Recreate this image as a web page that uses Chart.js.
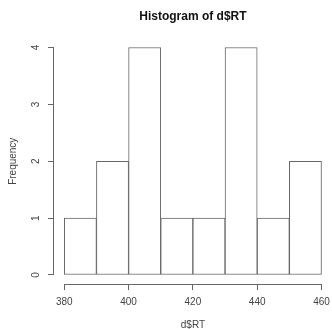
<!DOCTYPE html>
<html>
<head>
<meta charset="utf-8">
<script src="https://cdn.jsdelivr.net/npm/chart.js@4/dist/chart.umd.min.js"></script>
<style>
  html, body { margin: 0; padding: 0; background: #ffffff; overflow: hidden; }
  #wrap { width: 336px; height: 329px; }
</style>
</head>
<body>
<div id="wrap"><canvas id="c" width="336" height="329"></canvas></div>
<script>
// ---- data ----
const binStarts = [380, 390, 400, 410, 420, 430, 440, 450];
const binWidth = 10;
const counts = [1, 2, 4, 1, 1, 4, 1, 2];
const xTicks = [380, 400, 420, 440, 460];
const yTicks = [0, 1, 2, 3, 4];
const titleText = 'Histogram of d$RT';
const xLabel = 'd$RT';
const yLabel = 'Frequency';

const xMin = 380, xMax = 460, yMax = 4;
const xPad = (xMax - xMin) * 0.04, yPad = yMax * 0.04;

const points = binStarts.map((s, i) => ({ x: s + binWidth / 2, y: counts[i] }));

const lineColor = '#666666';
const textColor = '#444444';
const smallFont = { family: 'Liberation Sans, Arial, sans-serif', size: 10 };

const rAxesPlugin = {
  id: 'rAxes',
  afterDraw(chart) {
    const ctx = chart.ctx;
    const xs = chart.scales.x, ys = chart.scales.y;
    const area = chart.chartArea;
    ctx.save();
    ctx.strokeStyle = lineColor;
    ctx.lineWidth = 1;
    // x axis line from first to last tick
    const yb = Math.round(area.bottom) + 0.5;
    ctx.beginPath();
    ctx.moveTo(xs.getPixelForValue(xTicks[0]), yb);
    ctx.lineTo(xs.getPixelForValue(xTicks[xTicks.length - 1]), yb);
    ctx.stroke();
    // y axis line
    const xl = Math.round(area.left) - 0.5;
    ctx.beginPath();
    ctx.moveTo(xl, ys.getPixelForValue(yTicks[0]));
    ctx.lineTo(xl, ys.getPixelForValue(yTicks[yTicks.length - 1]));
    ctx.stroke();
    // rotated y tick labels
    ctx.fillStyle = textColor;
    ctx.font = smallFont.size + 'px ' + smallFont.family;
    ctx.textAlign = 'center';
    ctx.textBaseline = 'middle';
    yTicks.forEach(v => {
      ctx.save();
      ctx.translate(36.5, ys.getPixelForValue(v));
      ctx.rotate(-Math.PI / 2);
      ctx.fillText(String(v), 0, 0);
      ctx.restore();
    });
    ctx.restore();
  }
};

new Chart(document.getElementById('c'), {
  type: 'bar',
  data: {
    datasets: [{
      data: points,
      backgroundColor: '#ffffff',
      borderColor: lineColor,
      borderWidth: 1,
      borderSkipped: false,
      barPercentage: 1,
      categoryPercentage: 1
    }]
  },
  options: {
    responsive: false,
    animation: false,
    devicePixelRatio: 1,
    layout: { padding: { left: 0, right: 1.6, top: 0, bottom: 0 } },
    plugins: {
      legend: { display: false },
      tooltip: { enabled: false },
      title: {
        display: true,
        fullSize: false,
        text: titleText,
        color: '#111111',
        font: { family: 'Liberation Sans, Arial, sans-serif', size: 12, weight: 'bold', lineHeight: 1.2 },
        padding: { top: 9, bottom: 15 }
      }
    },
    scales: {
      x: {
        type: 'linear',
        position: 'bottom',
        offset: false,
        min: xMin - xPad,
        max: xMax + xPad,
        afterBuildTicks(scale) { scale.ticks = xTicks.map(v => ({ value: v })); },
        afterFit(scale) { scale.height = 44.9; },
        border: { display: false },
        grid: { display: true, offset: false, drawOnChartArea: false, drawTicks: true, tickLength: 6, color: lineColor, lineWidth: 1 },
        ticks: { color: textColor, font: smallFont, padding: 6, maxRotation: 0, minRotation: 0, autoSkip: false },
        title: { display: true, text: xLabel, color: textColor, font: { family: smallFont.family, size: 10, lineHeight: 0.8 }, padding: 0 }
      },
      y: {
        type: 'linear',
        min: -yPad,
        max: yMax + yPad,
        afterBuildTicks(scale) { scale.ticks = yTicks.map(v => ({ value: v })); },
        afterFit(scale) { scale.width = 54; },
        border: { display: false },
        grid: { display: true, drawOnChartArea: false, drawTicks: true, tickLength: 6, color: lineColor, lineWidth: 1 },
        ticks: { display: false },
        title: { display: true, text: yLabel, color: textColor, font: { family: smallFont.family, size: 10, lineHeight: 1.2 }, padding: { top: 7.5, bottom: 0 } }
      }
    }
  },
  plugins: [rAxesPlugin]
});
</script>
</body>
</html>
